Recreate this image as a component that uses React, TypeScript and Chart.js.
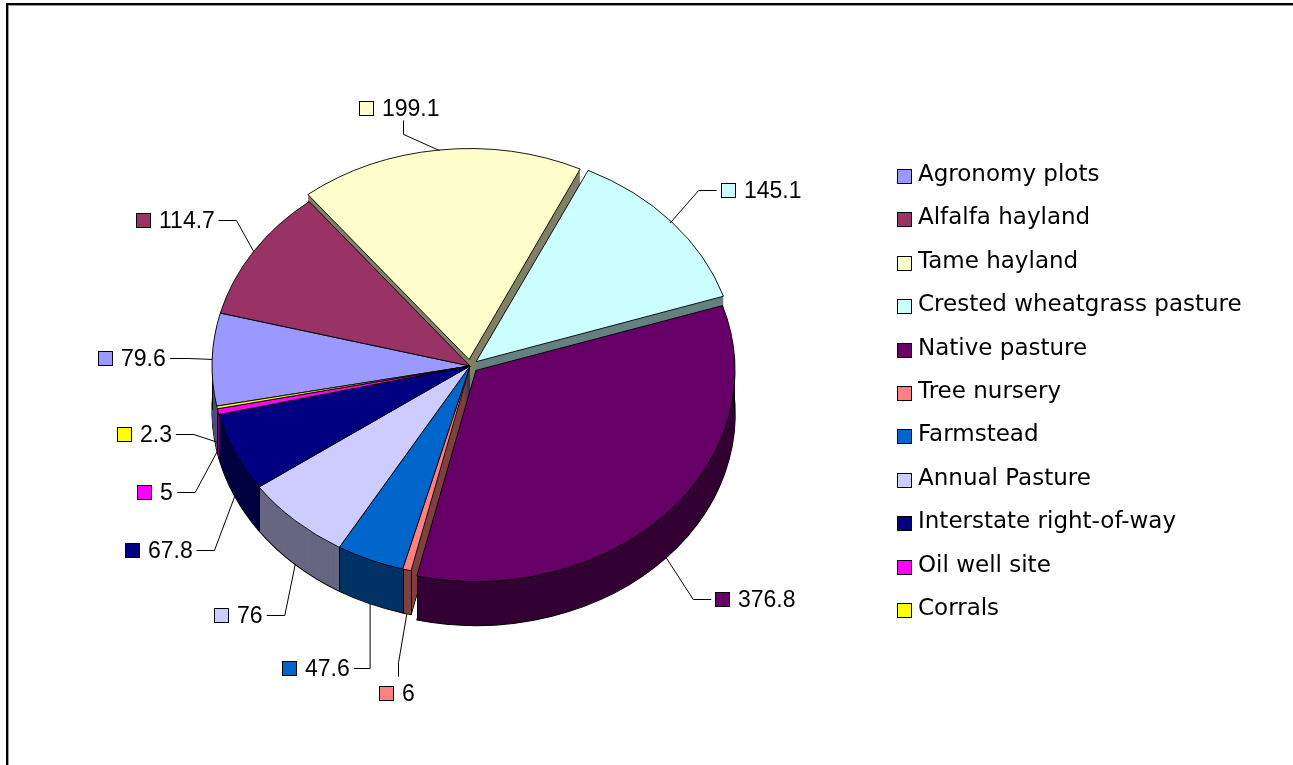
import React, { useEffect, useRef } from 'react';
import { Chart, registerables } from 'chart.js';

Chart.register(...registerables);

const categories = [
  'Agronomy plots',
  'Alfalfa hayland',
  'Tame hayland',
  'Crested wheatgrass pasture',
  'Native pasture',
  'Tree nursery',
  'Farmstead',
  'Annual Pasture',
  'Interstate right-of-way',
  'Oil well site',
  'Corrals',
];
const values = [79.6, 114.7, 199.1, 145.1, 376.8, 6, 47.6, 76, 67.8, 5, 2.3];
const valueLabels = ['79.6', '114.7', '199.1', '145.1', '376.8', '6', '47.6', '76', '67.8', '5', '2.3'];
const topColors = [
  '#9999FF', '#993366', '#FFFFCC', '#CCFFFF', '#660066', '#FF8080',
  '#0066CC', '#CCCCFF', '#000080', '#FF00FF', '#FFFF00',
];
const sideColors = [
  '#4C4C80', '#4C1933', '#808066', '#668080', '#330033', '#804040',
  '#003366', '#666680', '#000040', '#800080', '#808000',
];
const explodeOffsets = [0, 0, 32, 32, 32, 0, 0, 0, 0, 0, 0];

const PIE_RADIUS = 258;
const TILT = 0.815;
const DEPTH = 44;
const ROTATION = 259;

const clamp = (v: number, a: number, b: number) => Math.max(a, Math.min(b, v));

const framePlugin = {
  id: 'frame',
  beforeDraw(chart: any) {
    const ctx = chart.ctx;
    ctx.save();
    ctx.fillStyle = '#fff';
    ctx.fillRect(0, 0, chart.width, chart.height);
    ctx.fillStyle = '#000';
    ctx.fillRect(6, 3, chart.width, 2);
    ctx.fillRect(6, 3, 2, chart.height);
    ctx.fillStyle = '#9a9a9a';
    ctx.fillRect(8, 5, chart.width, 1);
    ctx.fillRect(8, 5, 1, chart.height);
    ctx.restore();
  },
};

const pie3dPlugin = {
  id: 'pie3d',
  beforeDatasetsDraw(chart: any) {
    const ctx = chart.ctx;
    const arcs = chart.getDatasetMeta(0).data as any[];
    ctx.save();
    if (!arcs.length) return;
    const cx = arcs[0].x;
    const cy = arcs[0].y;
    const squish = (dy: number) => {
      ctx.translate(cx, cy + dy);
      ctx.scale(1, TILT);
      ctx.translate(-cx, -cy);
    };
    for (let d = DEPTH; d >= 1; d--) {
      ctx.save();
      squish(d);
      arcs.forEach((arc, i) => {
        const orig = arc.options;
        arc.options = {
          ...orig,
          backgroundColor: sideColors[i],
          borderColor: d === DEPTH ? '#000' : sideColors[i],
          borderWidth: d === DEPTH ? 1.2 : 0,
        };
        arc.draw(ctx);
        arc.options = orig;
      });
      ctx.restore();
    }
    // vertical edges of the visible side walls
    ctx.save();
    ctx.strokeStyle = '#000';
    ctx.lineWidth = 1;
    arcs.forEach((arc, i) => {
      const o = (explodeOffsets[i] || 0) / 4;
      const h = (arc.startAngle + arc.endAngle) / 2;
      const ox = Math.cos(h) * o;
      const oy = Math.sin(h) * o;
      const angles: number[] = [arc.startAngle, arc.endAngle];
      for (let m = -4; m <= 4; m++) {
        const a = m * Math.PI;
        if (a > arc.startAngle && a < arc.endAngle) angles.push(a);
      }
      angles.forEach((a) => {
        if (Math.sin(a) < -1e-6) return;
        const x = cx + ox + arc.outerRadius * Math.cos(a);
        const y = cy + (oy + arc.outerRadius * Math.sin(a)) * TILT;
        ctx.beginPath();
        ctx.moveTo(Math.round(x) + 0.5, y);
        ctx.lineTo(Math.round(x) + 0.5, y + DEPTH);
        ctx.stroke();
      });
    });
    ctx.restore();
    squish(0);
  },
  afterDatasetsDraw(chart: any) {
    chart.ctx.restore();
  },
};

const MARK = 15;
const GAP = 8;

const labelsPlugin = {
  id: 'pieLabels',
  afterDraw(chart: any) {
    const ctx = chart.ctx;
    const arcs = chart.getDatasetMeta(0).data as any[];
    if (!arcs.length) return;
    const cx = arcs[0].x;
    const cy = arcs[0].y;
    ctx.save();
    ctx.font = '23px "Liberation Sans", Arial, sans-serif';
    const items = arcs.map((arc, i) => {
      const th = (arc.startAngle + arc.endAngle) / 2;
      const c = Math.cos(th);
      const s = Math.sin(th);
      const o = (explodeOffsets[i] || 0) / 4;
      const R = arc.outerRadius;
      const ex = cx + (R + o) * c;
      const ey = cy + (R + o) * s * TILT + DEPTH * clamp(s * 4, 0, 1);
      const extX = c > 0 ? 70 : 42;
      const ax = cx + (R + extX) * c;
      const ay = cy + (R + 70) * s * TILT + DEPTH * clamp(s * 1.5, 0, 1) + 12 * Math.max(0, s);
      const text = valueLabels[i];
      const tw = ctx.measureText(text).width;
      const w = MARK + GAP + tw;
      const mode = Math.abs(c) < 0.3 ? 'center' : c > 0 ? 'right' : 'left';
      let left: number;
      if (mode === 'right') left = ax + 4;
      else if (mode === 'left') left = ax - 4 - w;
      else if (s < 0) left = ax - w * 0.95;
      else left = ax - w / 2;
      const cyBox = ay + (mode === 'center' ? (s > 0 ? 12 : 8) : 0);
      return { i, ex, ey, left, w, cyBox, mode, text, s };
    });
    const sorted = [...items].sort((a, b) => a.cyBox - b.cyBox);
    const placed: any[] = [];
    const MIN_DY = 58;
    for (const it of sorted) {
      let guard = 0;
      let moved = true;
      while (moved && guard++ < 50) {
        moved = false;
        for (const p of placed) {
          const xOverlap = it.left < p.left + p.w + 6 && p.left < it.left + it.w + 6;
          if (xOverlap && Math.abs(it.cyBox - p.cyBox) < MIN_DY) {
            it.cyBox = p.cyBox + MIN_DY;
            moved = true;
          }
        }
      }
      placed.push(it);
    }
    ctx.strokeStyle = '#000';
    ctx.lineWidth = 1;
    items.forEach((it) => {
      ctx.beginPath();
      if (it.mode === 'center') {
        const sx = Math.round(it.left + it.w * 0.54) + 0.5;
        const sy = it.cyBox + (it.s > 0 ? -16 : 12);
        const sgn = it.s > 0 ? -1 : 1;
        ctx.moveTo(sx, sy);
        ctx.lineTo(sx, sy + sgn * 14);
        ctx.lineTo(it.ex, it.ey);
      } else {
        const sx = it.mode === 'right' ? it.left - 4 : it.left + it.w + 4;
        const sy = Math.round(it.cyBox) + 0.5;
        const dir = Math.sign(it.ex - sx);
        const qx = sx + dir * Math.min(18, Math.abs(it.ex - sx));
        ctx.moveTo(sx, sy);
        ctx.lineTo(qx, sy);
        ctx.lineTo(it.ex, it.ey);
      }
      ctx.stroke();
      const base = Math.round(it.cyBox + 8);
      const lx = Math.round(it.left);
      ctx.fillStyle = topColors[it.i];
      ctx.fillRect(lx, base - MARK, MARK, MARK);
      ctx.strokeRect(lx + 0.5, base - MARK + 0.5, MARK - 1, MARK - 1);
      ctx.fillStyle = '#000';
      ctx.textBaseline = 'alphabetic';
      ctx.textAlign = 'left';
      ctx.fillText(it.text, lx + MARK + GAP, base);
    });
    ctx.restore();
  },
};

const LEGEND_X = 897;
const LEGEND_Y0 = 181;
const LEGEND_STEP = 43.4;

const legendPlugin = {
  id: 'customLegend',
  afterDraw(chart: any) {
    const ctx = chart.ctx;
    ctx.save();
    ctx.font = '23px "DejaVu Sans", sans-serif';
    ctx.textBaseline = 'alphabetic';
    ctx.textAlign = 'left';
    ctx.lineWidth = 1;
    ctx.strokeStyle = '#000';
    categories.forEach((name, i) => {
      const base = Math.round(LEGEND_Y0 + i * LEGEND_STEP);
      ctx.fillStyle = topColors[i];
      ctx.fillRect(LEGEND_X, base - 12, 15, 15);
      ctx.strokeRect(LEGEND_X + 0.5, base - 12 + 0.5, 14, 14);
      ctx.fillStyle = '#000';
      ctx.fillText(name, LEGEND_X + 21, base);
    });
    ctx.restore();
  },
};

export default function App() {
  const canvasRef = useRef<HTMLCanvasElement | null>(null);
  useEffect(() => {
    if (!canvasRef.current) return;
    const chart = new Chart(canvasRef.current, {
      type: 'pie',
      data: {
        labels: categories,
        datasets: [
          {
            data: values,
            backgroundColor: topColors,
            borderColor: '#000',
            borderWidth: 1,
            offset: explodeOffsets,
            hoverOffset: 0,
          } as any,
        ],
      },
      options: {
        responsive: false,
        animation: false,
        events: [],
        rotation: ROTATION,
        radius: PIE_RADIUS,
        layout: { padding: { left: 200, right: 553, top: 99, bottom: 132 } },
        plugins: {
          legend: { display: false },
          tooltip: { enabled: false },
        },
      } as any,
      plugins: [framePlugin, pie3dPlugin, labelsPlugin, legendPlugin],
    });
    return () => chart.destroy();
  }, []);
  return (
    <div style={{ position: 'absolute', left: 0, top: 0, width: 1293, height: 765, background: '#fff' }}>
      <canvas ref={canvasRef} width={1293} height={765} style={{ display: 'block' }} />
    </div>
  );
}
